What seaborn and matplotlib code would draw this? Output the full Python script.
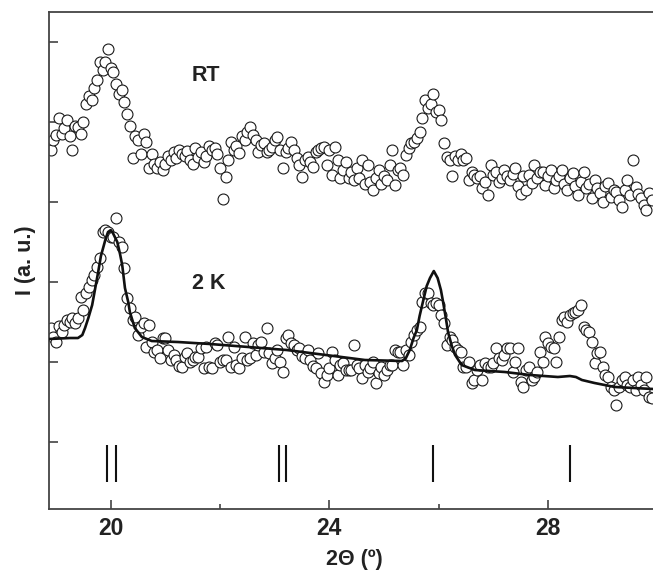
import numpy as np
import matplotlib
matplotlib.use("Agg")
import matplotlib.pyplot as plt
import seaborn as sns

# Room-temperature scan (counts, arbitrary units), step 0.05 deg from 18.90
rt_counts = [
    372, 382, 387, 404, 388, 394, 402, 386, 372, 396,
    395, 388, 400, 418, 426, 422, 434, 442, 460, 452,
    460, 473, 454, 450, 438, 428, 432, 420, 408, 396,
    364, 386, 382, 368, 388, 380, 354, 368, 358, 354,
    360, 352, 358, 366, 362, 370, 364, 372, 368, 366,
    371, 362, 358, 374, 365, 370, 360, 366, 376, 372,
    374, 368, 354, 323, 345, 362, 380, 372, 376, 369,
    386, 382, 390, 395, 387, 382, 370, 377, 379, 370,
    372, 375, 382, 385, 372, 354, 370, 374, 380, 372,
    364, 357, 345, 362, 365, 360, 355, 370, 372, 374,
    375, 357, 372, 347, 375, 362, 344, 352, 360, 344,
    350, 342, 354, 344, 362, 338, 357, 340, 332, 344,
    352, 338, 346, 342, 357, 372, 337, 352, 354, 347,
    367, 374, 379, 380, 384, 390, 404, 422, 414, 418,
    428, 410, 412, 402, 379, 365, 362, 346, 366, 362,
    368, 362, 364, 342, 350, 347, 344, 346, 334, 340,
    327, 357, 347, 350, 340, 344, 352, 346, 342, 348,
    354, 336, 328, 346, 332, 347, 339, 357, 344, 350,
    350, 337, 346, 352, 334, 342, 346, 352, 338, 332,
    344, 349, 336, 327, 340, 350, 334, 338, 324, 342,
    334, 329, 320, 336, 339, 325, 332, 330, 322, 315,
    332, 342, 327, 362, 335, 328, 324, 317, 312, 329, 322,
]

# 2 K scan
k2_counts = [
    194, 185, 180, 196, 190, 197, 202, 200, 204, 199,
    204, 225, 212, 229, 235, 242, 247, 255, 264, 290,
    292, 290, 285, 285, 304, 280, 275, 254, 224, 214,
    202, 205, 187, 195, 199, 175, 197, 180, 170, 172,
    164, 184, 184, 172, 162, 167, 162, 156, 155, 165,
    169, 160, 162, 165, 165, 174, 154, 175, 155, 154,
    179, 177, 160, 162, 162, 185, 155, 175, 157, 154,
    164, 185, 162, 164, 179, 167, 177, 180, 170, 194,
    169, 159, 164, 172, 160, 150, 184, 187, 179, 177,
    172, 174, 166, 164, 172, 162, 156, 154, 169, 149,
    140, 147, 154, 170, 162, 147, 157, 159, 152, 152,
    152, 177, 157, 154, 144, 157, 150, 154, 160, 139,
    149, 155, 147, 152, 157, 157, 172, 170, 170, 157,
    172, 167, 180, 187, 192, 195, 220, 229, 229, 219,
    217, 219, 217, 207, 199, 177, 185, 182, 175, 172,
    170, 155, 155, 160, 139, 142, 152, 157, 142, 159,
    155, 155, 159, 174, 164, 162, 167, 174, 174, 150,
    160, 174, 140, 135, 152, 155, 142, 145, 150, 170,
    160, 185, 179, 175, 174, 160, 185, 202, 205, 200,
    207, 209, 210, 212, 217, 195, 192, 190, 180, 159,
    169, 170, 155, 147, 145, 135, 132, 117, 135, 142,
    145, 137, 135, 142, 132, 145, 137, 132, 145, 125, 124,
]

two_theta = np.round(18.90 + 0.05 * np.arange(len(rt_counts)), 2)

# calculated profile for 2 K
fit_theta = [18.87, 19.26, 19.40, 19.48, 19.53, 19.59, 19.66, 19.71, 19.77, 19.82,
             19.90, 19.95, 20.00, 20.04, 20.12, 20.17, 20.21, 20.26, 20.32, 20.35,
             20.44, 20.57, 20.75, 21.23, 21.82, 23.22, 24.65, 25.33, 25.40, 25.47,
             25.54, 25.60, 25.65, 25.71, 25.78, 25.84, 25.91, 25.98, 26.04, 26.08,
             26.13, 26.17, 26.24, 26.30, 26.42, 26.66, 27.21, 27.67, 28.18, 28.40,
             28.51, 28.62, 28.85, 29.22, 29.92]
fit_counts = [183, 184, 184, 187, 194, 204, 217, 232, 250, 266,
              282, 290, 292, 289, 280, 268, 257, 234, 220, 210,
              194, 185, 181, 180, 178, 172, 162, 161, 164, 172,
              184, 192, 206, 220, 236, 244, 251, 244, 232, 220,
              204, 190, 176, 167, 157, 152, 150, 147, 145, 146,
              145, 142, 139, 135, 133]

# reflection positions
bragg_pos = [19.93, 20.09, 23.08, 23.20, 25.90, 28.41]

sns.set_style("ticks")
plt.rcParams['font.family'] = ['Liberation Sans', 'DejaVu Sans']

fig = plt.figure(figsize=(6.53, 5.79), dpi=100)
ax = fig.add_axes([0.075, 0.121, 0.925, 0.858])

for counts in (rt_counts, k2_counts):
    sns.scatterplot(x=two_theta, y=counts, ax=ax, marker='o', s=62,
                    color='white', edgecolor='#1a1a1a', linewidth=0.8, zorder=2)

sns.lineplot(x=fit_theta, y=fit_counts, ax=ax, color='#111111', lw=1.9,
             sort=False, zorder=3)

ax.vlines(bragg_pos, 40, 77, color='#111111', lw=1.5)

ax.text(21.74, 447, 'RT', fontsize=15.5, fontweight='bold', ha='center', va='center', color='#222222')
ax.text(21.80, 239, '2 K', fontsize=15.5, fontweight='bold', ha='center', va='center', color='#222222')

ax.set_xlim(18.87, 29.92)
ax.set_ylim(13, 510)
ax.set_xticks([20, 24, 28])
ax.set_xticks([22, 26], minor=True)
ax.set_yticks([80, 160, 240, 320, 400, 480])
ax.set_yticklabels([])
ax.tick_params(axis='both', which='major', direction='in', length=6.5, width=1.1, color='#333333')
ax.tick_params(axis='x', which='minor', direction='in', length=3.5, width=1.1, color='#333333')
ax.tick_params(axis='x', labelsize=16.5, pad=6, labelcolor='#222222')
for lab in ax.get_xticklabels():
    lab.set_fontweight('bold')

for side in ('left', 'top', 'bottom'):
    ax.spines[side].set_color('#444444')
    ax.spines[side].set_linewidth(1.3)
ax.spines['right'].set_visible(False)

ax.set_xlabel('2Θ (º)', fontsize=15.5, fontweight='bold', color='#222222')
ax.set_ylabel('I (a. u.)', fontsize=15.5, fontweight='bold', color='#222222')
ax.xaxis.set_label_coords(0.505, -0.08)
ax.yaxis.set_label_coords(-0.022, 0.5)

fig.savefig('out.png', dpi=100)
